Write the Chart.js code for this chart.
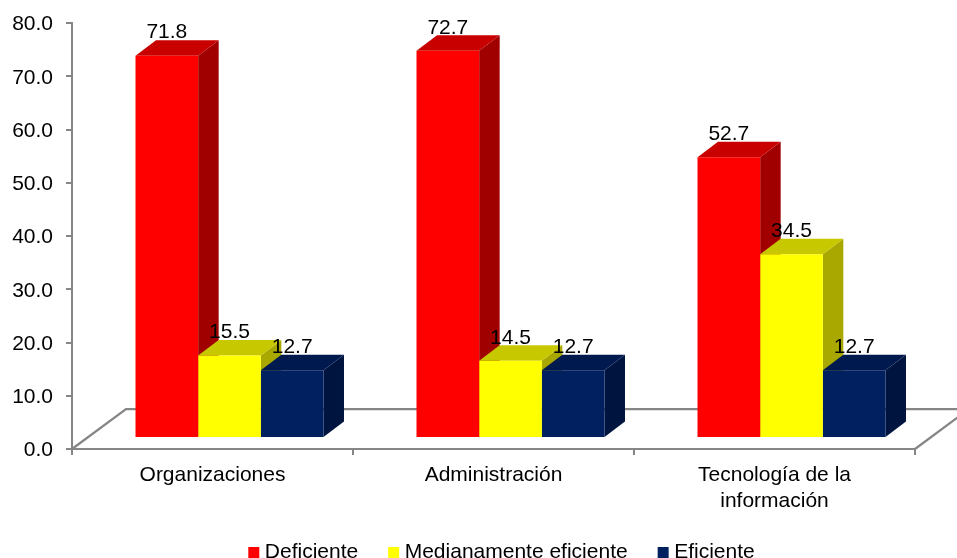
<!DOCTYPE html>
<html>
<head>
<meta charset="utf-8">
<style>html,body{margin:0;padding:0;background:#fff}canvas{display:block}</style>
<script src="https://cdn.jsdelivr.net/npm/chart.js@4"></script>
</head>
<body>
<canvas id="c" width="957" height="558"></canvas>
<script>
const categories = ['Organizaciones', 'Administración', ['Tecnología de la', 'información']];
const deficiente = [71.8, 72.7, 52.7];
const medianamente = [15.5, 14.5, 34.5];
const eficiente = [12.7, 12.7, 12.7];
const seriesNames = ['Deficiente', 'Medianamente eficiente', 'Eficiente'];
const seriesColors = ['#FF0000', '#FFFF00', '#002060'];
const topColors = ['#C80000', '#C8C800', '#001A50'];
const sideColors = ['#A00000', '#A8A800', '#001440'];

const FONT = '"Liberation Sans", Arial, sans-serif';
const FS = 21;
const AXIS = '#868686';
const depthX = 20.5, depthY = 15.5;
const shiftX = 17, shiftY = -11;

const poly = (ctx, pts, fill) => {
  ctx.beginPath();
  pts.forEach((p, i) => i ? ctx.lineTo(p[0], p[1]) : ctx.moveTo(p[0], p[1]));
  ctx.closePath();
  ctx.fillStyle = fill;
  ctx.fill();
};

const bars3d = {
  id: 'bars3d',
  afterLayout(chart) {
    const l = chart.legend;
    l.left = 504 - 450;
    l.right = 504 + 450;
    l.top = 507;
  },
  beforeDatasetsDraw(chart) {
    const { ctx, chartArea: a } = chart;
    ctx.save();
    ctx.strokeStyle = AXIS;
    ctx.lineWidth = 2.25;
    ctx.beginPath();
    ctx.moveTo(a.left, a.bottom);
    ctx.lineTo(a.left + 54, a.bottom - 40);
    ctx.lineTo(957, a.bottom - 40);
    ctx.moveTo(a.right, a.bottom);
    ctx.lineTo(a.right + 54, a.bottom - 40);
    ctx.stroke();
    ctx.restore();
    ctx.save();
    ctx.translate(shiftX, shiftY);
    chart.data.datasets.forEach((ds, i) => {
      chart.getDatasetMeta(i).data.forEach(b => {
        const w = b.width / 2, l = b.x - w, r = b.x + w;
        poly(ctx, [[r, b.y], [r + depthX, b.y - depthY], [r + depthX, b.base - depthY], [r, b.base]], sideColors[i]);
        poly(ctx, [[l, b.y], [r, b.y], [r + depthX, b.y - depthY], [l + depthX, b.y - depthY]], topColors[i]);
      });
    });
  },
  afterDatasetsDraw(chart) {
    const { ctx } = chart;
    ctx.restore();
    ctx.save();
    ctx.font = FS + 'px ' + FONT;
    ctx.fillStyle = '#000';
    ctx.textAlign = 'center';
    ctx.textBaseline = 'middle';
    chart.data.datasets.forEach((ds, i) => {
      chart.getDatasetMeta(i).data.forEach((b, j) => {
        ctx.fillText(ds.data[j].toFixed(1), b.x + shiftX, b.y + shiftY - 23);
      });
    });
    ctx.restore();
  }
};

new Chart(document.getElementById('c'), {
  type: 'bar',
  plugins: [bars3d],
  data: {
    labels: categories,
    datasets: [deficiente, medianamente, eficiente].map((d, i) => ({
      label: seriesNames[i],
      data: d,
      backgroundColor: seriesColors[i],
      borderWidth: 0,
      clip: false,
      categoryPercentage: 0.669,
      barPercentage: 1
    }))
  },
  options: {
    responsive: false,
    animation: false,
    layout: { padding: { left: 0, right: 42, top: 23, bottom: -29 } },
    scales: {
      x: {
        afterFit(s) { s.height = 72; },
        border: { color: AXIS, width: 2 },
        grid: { drawOnChartArea: false, color: AXIS, lineWidth: 2, tickLength: 6 },
        ticks: { color: '#000', font: { family: FONT, size: FS }, padding: 8, maxRotation: 0 }
      },
      y: {
        min: 0, max: 80,
        afterFit(s) { s.width = 72; s.paddingTop = 0; s.paddingBottom = 0; },
        border: { color: AXIS, width: 2 },
        grid: { drawOnChartArea: false, color: AXIS, lineWidth: 2, tickLength: 6 },
        ticks: {
          stepSize: 10, color: '#000', padding: 13, labelOffset: 1.5,
          font: { family: FONT, size: FS },
          callback: v => Number(v).toFixed(1)
        }
      }
    },
    plugins: {
      tooltip: { enabled: false },
      legend: {
        position: 'bottom',
        labels: {
          color: '#000',
          font: { family: FONT, size: FS },
          usePointStyle: true,
          pointStyle: 'rect',
          boxWidth: 1,
          boxHeight: 11,
          padding: 35
        }
      }
    }
  }
});
</script>
</body>
</html>
